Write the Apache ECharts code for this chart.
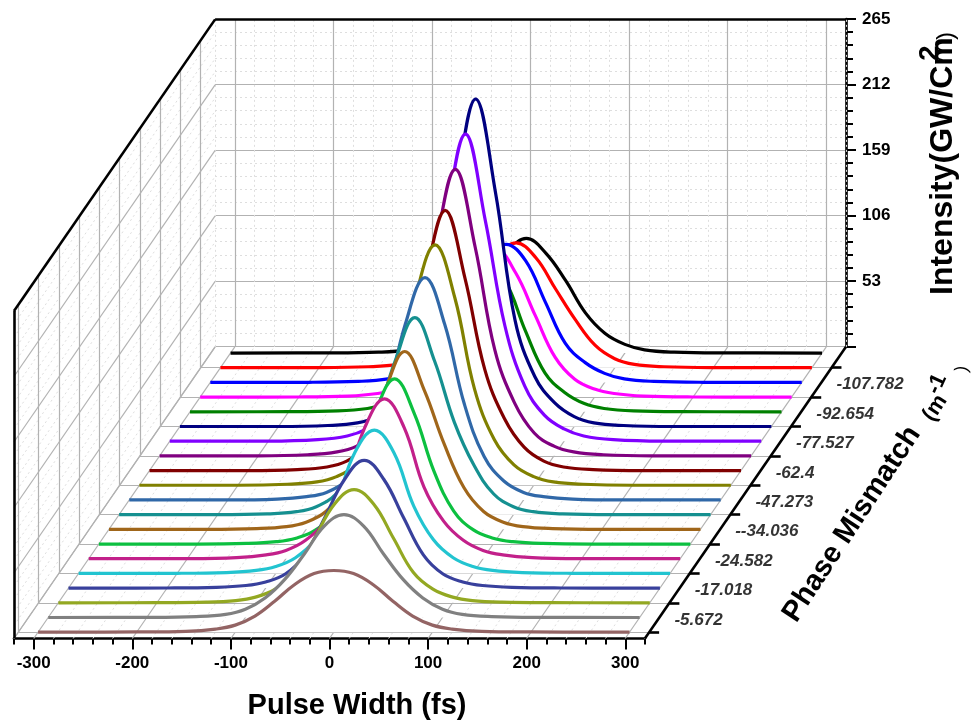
<!DOCTYPE html>
<html>
<head>
<meta charset="utf-8">
<title>Pulse Width waterfall</title>
<script src="https://cdn.jsdelivr.net/npm/echarts@6/dist/echarts.min.js"></script>
<style>
  html, body { margin: 0; padding: 0; background: #fff; }
  #chart { width: 974px; height: 723px; }
</style>
</head>
<body>
<div id="chart"></div>
<script>
//Samples (fs)
const pulseWidths = [-300, -200, -150, -120, -100, -80, -60, -40, -20, 0, 20, 40, 60, 80, 100, 120, 150, 200, 300];

//Intensity of each trace, front one first
const trace01 = [0, 0.2, 0.7, 2.5, 5.7, 13, 25, 38.4, 47.4, 49.9, 47.4, 38.4, 25, 13, 5.7, 2.5, 0.7, 0.2, 0];
const trace02 = [0, 0.1, 0.7, 2.5, 6.7, 15.8, 30.8, 51.6, 74, 83.2, 74, 51.6, 30.8, 15.8, 6.7, 2.5, 0.7, 0.1, 0];
const trace03 = [0, 0.1, 0.5, 1.8, 4.6, 11, 24.7, 52.2, 79.7, 91.6, 79.7, 52.2, 24.7, 11, 4.6, 1.8, 0.5, 0.1, 0];
const trace04 = [0, 0.1, 0.6, 2.1, 5, 11.4, 26.9, 56.9, 87.9, 103.4, 87.9, 56.9, 26.9, 11.4, 5, 2.1, 0.6, 0.1, 0];
const trace05 = [0, 0.1, 0.7, 2.4, 5.6, 12.7, 27.2, 54.5, 97.4, 115.9, 97.4, 54.5, 27.2, 12.7, 5.6, 2.4, 0.7, 0.1, 0];
const trace06 = [0, 0.1, 0.9, 3.1, 6.7, 14.9, 30.4, 58.2, 106.1, 129.4, 106.1, 58.2, 30.4, 14.9, 6.7, 3.1, 0.9, 0.1, 0];
const trace07 = [0, 0, 0.5, 1.9, 4.7, 11.4, 26.7, 58.8, 105.6, 133.7, 105.6, 58.8, 26.7, 11.4, 4.7, 1.9, 0.5, 0, 0];
const trace08 = [0, 0, 0.6, 2.2, 5.8, 14.4, 33.8, 69.1, 112.2, 143.9, 112.2, 69.1, 33.8, 14.4, 5.8, 2.2, 0.6, 0, 0];
const trace09 = [0, 0, 0.6, 2.4, 6.4, 16.7, 39.9, 74.9, 124.3, 159.4, 124.3, 74.9, 39.9, 16.7, 6.4, 2.4, 0.6, 0, 0];
const trace10 = [0, 0, 0.7, 2.7, 6.1, 15.3, 35.1, 77.4, 142.1, 179.9, 142.1, 77.4, 35.1, 15.3, 6.1, 2.7, 0.7, 0, 0];
const trace11 = [0, 0, 0.8, 2.7, 7, 16.5, 37, 77.8, 151.7, 194.5, 151.7, 77.8, 37, 16.5, 7, 2.7, 0.8, 0, 0];
const trace12 = [0, 0, 0.8, 2.9, 7.6, 18.9, 42.1, 82.1, 155.8, 210.5, 155.8, 82.1, 42.1, 18.9, 7.6, 2.9, 0.8, 0, 0];
const trace13 = [0, 0, 0.9, 3.2, 7.9, 18.5, 42.9, 85.8, 169.2, 231.8, 169.2, 85.8, 42.9, 18.5, 7.9, 3.2, 0.9, 0, 0];
const trace14 = [0, 0, 1.2, 4.2, 9.9, 21.1, 44.7, 93.2, 178.9, 248.5, 178.9, 93.2, 44.7, 21.1, 9.9, 4.2, 1.2, 0, 0];
const trace15 = [0, 0, 0.8, 2.9, 8, 19.3, 40.5, 85.9, 190, 265, 190, 85.9, 40.5, 19.3, 8, 2.9, 0.8, 0, 0];
const trace16 = [0, 0.1, 0.7, 2.7, 6.7, 15.7, 31.5, 65.9, 105.3, 121, 105.3, 65.9, 31.5, 15.7, 6.7, 2.7, 0.7, 0.1, 0];
const trace17 = [0, 0.1, 0.8, 2.9, 6.5, 14.4, 32.3, 65.9, 100.6, 119.8, 100.6, 65.9, 32.3, 14.4, 6.5, 2.9, 0.8, 0.1, 0];
const trace18 = [0, 0.1, 0.8, 2.8, 7.3, 16.2, 31.8, 64.8, 98.3, 111.7, 98.3, 64.8, 31.8, 16.2, 7.3, 2.8, 0.8, 0.1, 0];
const trace19 = [0, 0.1, 0.8, 2.7, 7.3, 18.2, 38.9, 63.7, 89, 101.1, 89, 63.7, 38.9, 18.2, 7.3, 2.7, 0.8, 0.1, 0];
const trace20 = [0, 0.1, 0.7, 2.6, 7, 15.8, 32.5, 58.5, 80.7, 92.8, 80.7, 58.5, 32.5, 15.8, 7, 2.6, 0.7, 0.1, 0];
const traces = [trace01, trace02, trace03, trace04, trace05, trace06, trace07, trace08, trace09, trace10,
  trace11, trace12, trace13, trace14, trace15, trace16, trace17, trace18, trace19, trace20];

const traceColors = ['#936464', '#808080', '#93a822', '#38409c', '#22c4d0', '#c2208a', '#0cc040', '#a0661a', '#159090', '#3068a8',
  '#808000', '#800000', '#800080', '#8000ff', '#000080', '#008000', '#ff00ff', '#0000ff', '#ff0000', '#000000'];

//Axis ticks
const pulseTicks = [-300, -200, -100, 0, 100, 200, 300];
const phaseLabels = ['-5.672', '-17.018', '-24.582', '--34.036', '-47.273', '-62.4', '-77.527', '-92.654', '-107.782'];
const phaseTickTraces = [0, 2, 4, 6, 8, 10, 12, 14, 16, 18];

//Oblique projection: depth slides a point right (fs) and up (intensity)
const depthX = 204;
const depthY = 236;
const depthOf = i => (i + 0.43) / 19.85;
const project = (pw, t, val) => [pw + t * depthX, val + t * depthY];
const seg = (a, b) => ({ coords: [a, b] });

//Grid lines of the walls and the floor
const major = [];
const minor = [];
for (let pw = -320; pw <= 320; pw += 20) {
  const list = pw % 100 === 0 ? major : minor;
  list.push(seg(project(pw, 0, 0), project(pw, 1, 0)));
  list.push(seg(project(pw, 1, 0), project(pw, 1, 265)));
}
for (let v = 0; v <= 265; v += 10.6) {
  const list = Math.round(v * 10) % 530 === 0 ? major : minor;
  list.push(seg(project(-320, 0, v), project(-320, 1, v)));
}
phaseTickTraces.forEach(i => {
  const t = depthOf(i);
  major.push(seg(project(-320, t, 0), project(320, t, 0)));
  major.push(seg(project(-320, t, 0), project(-320, t, 265)));
});
major.push(seg(project(-320, 0, 0), project(-320, 1, 0)));
major.push(seg(project(320, 0, 0), project(320, 1, 0)));

//Black frame and depth axis
const frame = [
  seg(project(-320, 0, 0), project(-320, 0, 265)),
  seg(project(-320, 0, 265), project(-320, 1, 265)),
  seg(project(-320, 1, 265), project(320, 1, 265)),
  seg(project(320, 0, 0), project(320, 1, 0))
];
const tickLen = 10;
phaseTickTraces.forEach(i => {
  const p = project(320, depthOf(i), 0);
  frame.push(seg(p, [p[0] + tickLen, p[1]]));
});

const lineSeries = (data, color, width, type, z) => ({
  type: 'lines',
  coordinateSystem: 'cartesian2d',
  xAxisIndex: 0,
  yAxisIndex: 0,
  clip: false,
  silent: true,
  animation: false,
  z: z,
  lineStyle: { color: color, width: width, type: type, opacity: 1 },
  data: data
});

const series = [
  lineSeries(minor, '#dedede', 1, [2, 3], 1),
  lineSeries(major, '#b2b2b2', 1.2, 'solid', 2)
];

//Back trace first, each white area hides what lies behind
for (let i = traces.length - 1; i >= 0; i--) {
  const t = depthOf(i);
  series.push({
    type: 'line',
    xAxisIndex: 0,
    yAxisIndex: 0,
    clip: false,
    smooth: 0.4,
    symbol: 'none',
    silent: true,
    animation: false,
    z: 3 + (traces.length - i),
    lineStyle: { color: traceColors[i], width: 3.2, cap: 'butt' },
    areaStyle: { color: '#ffffff', opacity: 1, origin: t * depthY },
    data: traces[i].map((v, k) => project(pulseWidths[k], t, v))
  });
}

series.push(lineSeries(frame, '#000000', 2.6, 'solid', 40));

//Labels of the depth axis
series.push({
  type: 'scatter',
  xAxisIndex: 0,
  yAxisIndex: 0,
  clip: false,
  silent: true,
  animation: false,
  z: 41,
  symbolSize: 1,
  itemStyle: { color: 'transparent' },
  label: {
    show: true,
    position: 'right',
    distance: 0,
    formatter: p => p.name,
    fontFamily: 'Liberation Sans',
    fontStyle: 'italic',
    fontWeight: 'bold',
    fontSize: 17,
    color: '#000'
  },
  data: phaseLabels.map((name, k) => {
    const p = project(320, depthOf(phaseTickTraces[k]), 0);
    return { name: name, value: [p[0] + 25, p[1] + 10] };
  })
});

const chart = echarts.init(document.getElementById('chart'));
const tickFont = { fontFamily: 'Liberation Sans', fontWeight: 'bold', fontSize: 17, color: '#000' };
const titleFont = size => `bold ${size}px "Liberation Sans"`;
const hiddenAxis = { show: false };

chart.setOption({
  backgroundColor: '#ffffff',
  animation: false,
  grid: [
    { left: 14, width: 832, top: 19, height: 619.5 },
    { left: 14, width: 631, top: 19, height: 619.5 },
    { left: 215, width: 631, top: 19, height: 327.5 }
  ],
  xAxis: [
    { gridIndex: 0, type: 'value', min: -320, max: 524, ...hiddenAxis },
    {
      gridIndex: 1, type: 'value', position: 'bottom', min: -320, max: 320, interval: 20,
      axisLine: { onZero: false, lineStyle: { color: '#000', width: 2.6 } },
      axisTick: { length: 6, lineStyle: { color: '#000', width: 2 } },
      axisLabel: { show: false },
      splitLine: { show: false }
    },
    {
      gridIndex: 1, type: 'value', position: 'bottom', min: -320, max: 320,
      axisLine: { show: false, onZero: false },
      axisTick: { show: true, customValues: pulseTicks, length: 11, lineStyle: { color: '#000', width: 2 } },
      axisLabel: { show: true, customValues: pulseTicks, margin: 16, ...tickFont },
      splitLine: { show: false }
    },
    { gridIndex: 2, type: 'value', min: -320, max: 320, ...hiddenAxis }
  ],
  yAxis: [
    { gridIndex: 0, type: 'value', min: 0, max: 501.3, ...hiddenAxis },
    { gridIndex: 1, type: 'value', min: 0, max: 501.3, ...hiddenAxis },
    {
      gridIndex: 2, type: 'value', position: 'right', min: 0, max: 265, interval: 53,
      axisLine: { show: true, onZero: false, lineStyle: { color: '#000', width: 2.6 } },
      axisTick: { show: true, length: 10, lineStyle: { color: '#000', width: 2 } },
      minorTick: { show: true, splitNumber: 5, length: 7, lineStyle: { color: '#000', width: 2 } },
      axisLabel: { margin: 16, formatter: v => (v === 0 ? '' : v), ...tickFont },
      splitLine: { show: true, lineStyle: { color: '#b2b2b2', width: 1.2 } },
      minorSplitLine: { show: true, lineStyle: { color: '#dedede', width: 1, type: [2, 3] } }
    }
  ],
  graphic: [
    { type: 'text', x: 357, y: 706, style: { text: 'Pulse Width (fs)', font: titleFont(29), fill: '#000', textAlign: 'center', textVerticalAlign: 'middle' } },
    { type: 'text', x: 943, y: 295, rotation: Math.PI / 2, style: { text: 'Intensity(GW/Cm', font: titleFont(32), fill: '#000', textAlign: 'left', textVerticalAlign: 'middle' } },
    { type: 'text', x: 930, y: 61, rotation: Math.PI / 2, style: { text: '2', font: titleFont(28), fill: '#000', textAlign: 'left', textVerticalAlign: 'middle' } },
    { type: 'text', x: 946, y: 40, rotation: Math.PI / 2, style: { text: ')', font: '24px "Liberation Sans"', fill: '#000', textAlign: 'left', textVerticalAlign: 'middle' } },
    { type: 'text', x: 852, y: 524, rotation: 0.99, style: { text: 'Phase Mismatch', font: titleFont(29), fill: '#000', textAlign: 'center', textVerticalAlign: 'middle' } },
    { type: 'text', x: 935, y: 408, rotation: 0.99, style: { text: '(m', font: titleFont(22), fill: '#000', textAlign: 'center', textVerticalAlign: 'middle' } },
    { type: 'text', x: 937, y: 384, rotation: 1.15, style: { text: '-1', font: titleFont(22), fill: '#000', textAlign: 'center', textVerticalAlign: 'middle' } },
    { type: 'text', x: 962, y: 369, rotation: 1.4, style: { text: ')', font: '18px "Liberation Sans"', fill: '#000', textAlign: 'center', textVerticalAlign: 'middle' } }
  ],
  series: series
});
</script>
</body>
</html>
